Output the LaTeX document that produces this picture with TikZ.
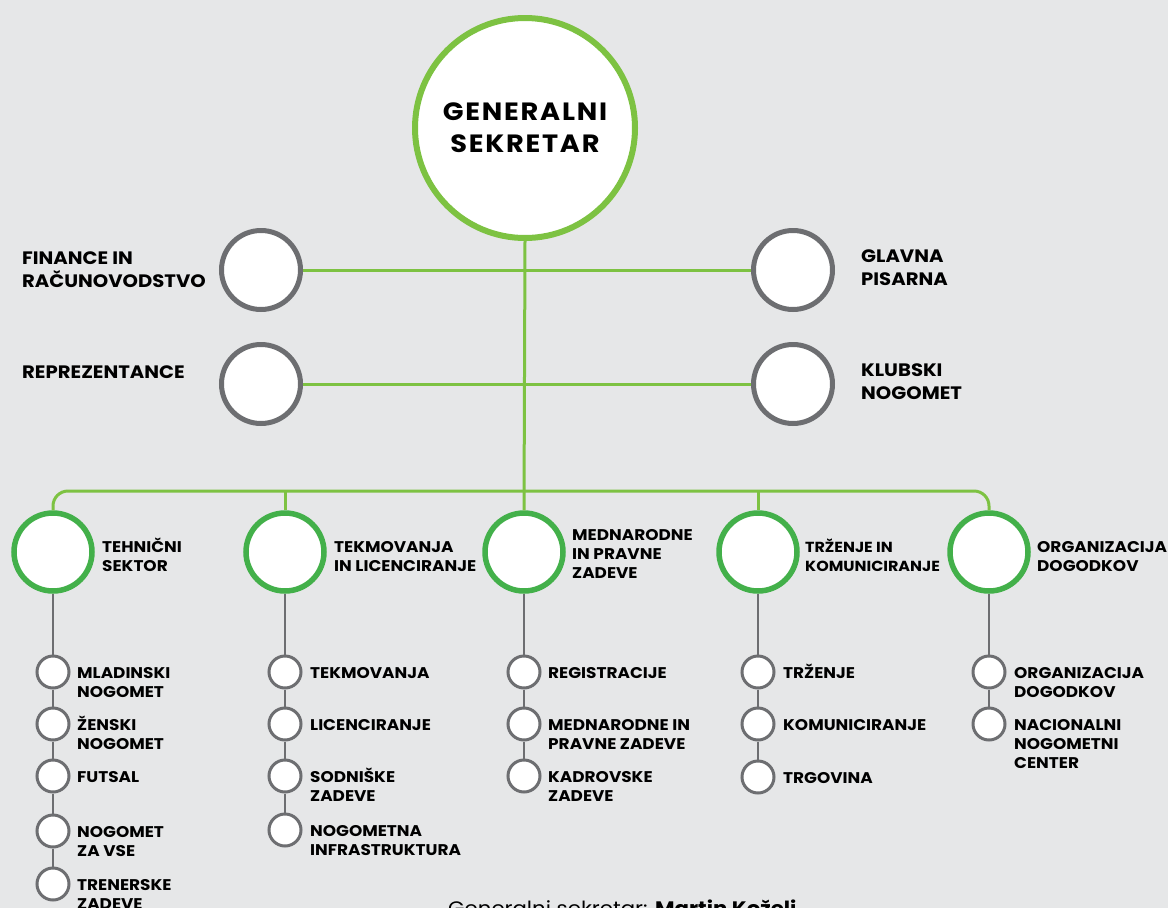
\documentclass[tikz,border=0pt]{standalone}
\usepackage{fontspec}
\setmainfont{Poppins}[FakeStretch=1.09]
\newfontfamily\titlefont{Poppins}[FakeStretch=1.09, LetterSpace=7]
\definecolor{bgc}{HTML}{E6E7E8}
\definecolor{lgreen}{HTML}{7DC242}
\definecolor{dgreen}{HTML}{43B04A}
\definecolor{cgray}{HTML}{6D6E71}
\tikzset{
  topnode/.style={circle, draw=lgreen, line width=6pt, fill=white, minimum size=220pt, inner sep=0pt, align=center, font=\titlefont\fontsize{25}{32}\selectfont\bfseries},
  lvlone/.style={circle, draw=cgray, line width=5pt, fill=white, minimum size=79pt, inner sep=0pt},
  lvltwo/.style={circle, draw=dgreen, line width=5.5pt, fill=white, minimum size=78pt, inner sep=0pt},
  leaf/.style={circle, draw=cgray, line width=3pt, fill=white, minimum size=32pt, inner sep=0pt},
  lblone/.style={anchor=base west, align=left, inner sep=0pt, font=\fontsize{18}{22.5}\selectfont\bfseries},
  lbltwo/.style={anchor=base west, align=left, inner sep=0pt, font=\fontsize{15.5}{19}\selectfont\bfseries},
  greenline/.style={draw=lgreen, line width=3pt},
  grayline/.style={draw=cgray, line width=2.5pt},
}
\begin{document}
\begin{tikzpicture}[x=1pt,y=-1pt]
\useasboundingbox (0,0) rectangle (1168,908);
\fill[bgc] (0,0) rectangle (1168,908);

% top
\node[topnode] (gs) at (525,128) {GENERALNI\\SEKRETAR};

% level one
\node[lvlone] (fin) at (261,270) {};
\node[lvlone] (rep) at (261,384) {};
\node[lvlone] (gla) at (793,270) {};
\node[lvlone] (klu) at (793,384) {};
% (base = baseline of the last line)
\node[lblone] (finl) at (22,287) {FINANCE IN\\RAČUNOVODSTVO};
\node[lblone] (repl) at (22,378) {REPREZENTANCE};
\node[lblone] (glal) at (861,285) {GLAVNA\\PISARNA};
\node[lblone] (klul) at (861,399) {KLUBSKI\\NOGOMET};

% level two
\node[lvltwo] (t1) at (53,552) {};
\node[lvltwo] (t2) at (285,552) {};
\node[lvltwo] (t3) at (524,552) {};
\node[lvltwo] (t4) at (758,552) {};
\node[lvltwo] (t5) at (989,552) {};
\node[lbltwo] (t1l) at (102,571) {TEHNIČNI\\SEKTOR};
\node[lbltwo] (t2l) at (334,571) {TEKMOVANJA\\IN LICENCIRANJE};
\node[lbltwo] (t3l) at (572,578) {MEDNARODNE\\IN PRAVNE\\ZADEVE};
\node[lbltwo, font=\fontsize{14.6}{19}\selectfont\bfseries] (t4l) at (805,571) {TRŽENJE IN\\KOMUNICIRANJE};
\node[lbltwo] (t5l) at (1037,571) {ORGANIZACIJA\\DOGODKOV};

% connectors green
\coordinate (bus) at (0,491);
\draw[greenline] (gs.south) -- (t3.north);
\draw[greenline] (fin.east) -- (gla.west);
\draw[greenline] (rep.east) -- (klu.west);
\draw[greenline, rounded corners=15pt] (t1.north) -- (t1.north |- bus) -- (t5.north |- bus) -- (t5.north);
\draw[greenline] (t2.north) -- (t2.north |- bus);
\draw[greenline] (t4.north) -- (t4.north |- bus);

% leaves column 1
\node[leaf] (a1) at (53,672) {};
\node[leaf] (a2) at (53,724) {};
\node[leaf] (a3) at (53,776) {};
\node[leaf] (a4) at (53,831) {};
\node[leaf] (a5) at (53,884) {};
\node[lbltwo] (a1l) at (77,697) {MLADINSKI\\NOGOMET};
\node[lbltwo] (a2l) at (77,749) {ŽENSKI\\NOGOMET};
\node[lbltwo] (a3l) at (77,782) {FUTSAL};
\node[lbltwo] (a4l) at (77,856) {NOGOMET\\ZA VSE};
\node[lbltwo] (a5l) at (77,909) {TRENERSKE\\ZADEVE};
\draw[grayline] (t1.south) -- (a1.north) (a1.south) -- (a2.north) (a2.south) -- (a3.north) (a3.south) -- (a4.north) (a4.south) -- (a5.north);

% column 2
\node[leaf] (b1) at (285,672) {};
\node[leaf] (b2) at (285,724) {};
\node[leaf] (b3) at (285,776) {};
\node[leaf] (b4) at (285,830) {};
\node[lbltwo] (b1l) at (310,678) {TEKMOVANJA};
\node[lbltwo] (b2l) at (310,730) {LICENCIRANJE};
\node[lbltwo] (b3l) at (310,801) {SODNIŠKE\\ZADEVE};
\node[lbltwo] (b4l) at (310,855) {NOGOMETNA\\INFRASTRUKTURA};
\draw[grayline] (t2.south) -- (b1.north) (b1.south) -- (b2.north) (b2.south) -- (b3.north) (b3.south) -- (b4.north);

% column 3
\node[leaf] (c1) at (524,672) {};
\node[leaf] (c2) at (524,724) {};
\node[leaf] (c3) at (524,776) {};
\node[lbltwo] (c1l) at (548,678) {REGISTRACIJE};
\node[lbltwo] (c2l) at (548,749) {MEDNARODNE IN\\PRAVNE ZADEVE};
\node[lbltwo] (c3l) at (548,801) {KADROVSKE\\ZADEVE};
\draw[grayline] (t3.south) -- (c1.north) (c1.south) -- (c2.north) (c2.south) -- (c3.north);

% column 4
\node[leaf] (d1) at (758,672) {};
\node[leaf] (d2) at (758,724) {};
\node[leaf] (d3) at (758,777) {};
\node[lbltwo] (d1l) at (783,678) {TRŽENJE};
\node[lbltwo] (d2l) at (783,730) {KOMUNICIRANJE};
\node[lbltwo] (d3l) at (783,783) {TRGOVINA};
\draw[grayline] (t4.south) -- (d1.north) (d1.south) -- (d2.north) (d2.south) -- (d3.north);

% column 5
\node[leaf] (e1) at (989,672) {};
\node[leaf] (e2) at (989,724) {};
\node[lbltwo] (e1l) at (1014,697) {ORGANIZACIJA\\DOGODKOV};
\node[lbltwo] (e2l) at (1014,768) {NACIONALNI\\NOGOMETNI\\CENTER};
\draw[grayline] (t5.south) -- (e1.north) (e1.south) -- (e2.north);

% footer
\node[anchor=base west, inner sep=0pt, font=\fontsize{19.5}{22}\selectfont] (foot) at (448,915) {Generalni sekretar: \textbf{Martin Koželj}};
\end{tikzpicture}
\end{document}
